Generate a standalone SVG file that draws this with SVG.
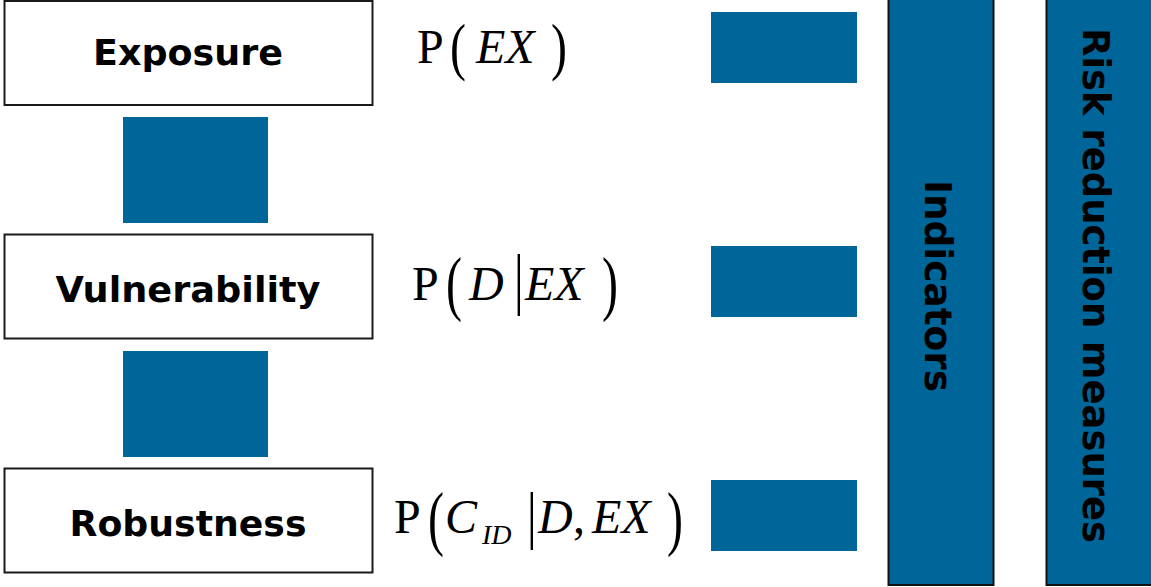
<svg xmlns="http://www.w3.org/2000/svg" width="1151" height="587" viewBox="0 0 1151 587">
  <style>
    .box { fill: #ffffff; stroke: #1a1a1a; stroke-width: 2; }
    .blk { fill: #00669a; }
    .col { fill: #00669a; stroke: #111111; stroke-width: 2; }
    .lbl { font-family: "DejaVu Sans", Verdana, sans-serif; font-weight: bold; font-size: 36px; fill: #000000; text-anchor: middle; }
    .vlbl { font-family: "DejaVu Sans", Verdana, sans-serif; font-weight: bold; font-size: 37px; fill: #000000; text-anchor: middle; }
    .math { font-family: "Liberation Serif", "Times New Roman", serif; font-size: 48px; fill: #000000; }
    .it { font-style: italic; }
    .sub { font-family: "Liberation Serif", "Times New Roman", serif; font-style: italic; font-size: 28px; fill: #000000; }
  </style>

  <!-- stage boxes -->
  <g id="exposure">
    <rect class="box" x="4.5" y="1" width="368" height="104"/>
    <text class="lbl" x="188" y="65" textLength="190" lengthAdjust="spacingAndGlyphs">Exposure</text>
  </g>
  <g id="vulnerability">
    <rect class="box" x="4.5" y="234.5" width="368" height="104"/>
    <text class="lbl" x="188" y="302" textLength="265" lengthAdjust="spacingAndGlyphs">Vulnerability</text>
  </g>
  <g id="robustness">
    <rect class="box" x="4.5" y="468.5" width="368" height="104"/>
    <text class="lbl" x="188" y="536" textLength="237" lengthAdjust="spacingAndGlyphs">Robustness</text>
  </g>

  <!-- blocks linking the stages and the probabilities -->
  <g id="links">
    <rect class="blk" x="123" y="117" width="145" height="106"/>
    <rect class="blk" x="123" y="351" width="145" height="106"/>
    <rect class="blk" x="711" y="12" width="146" height="71"/>
    <rect class="blk" x="711" y="246" width="146" height="71"/>
    <rect class="blk" x="711" y="480" width="146" height="71"/>
  </g>

  <!-- probability expressions -->
  <g id="p-exposure">
    <text class="math" x="417" y="63">P</text>
    <text class="math" transform="translate(450,51) scale(1,1.34)" x="0" y="12.4">(</text>
    <text class="math it" x="476" y="63">EX</text>
    <text class="math" transform="translate(551,51) scale(1,1.34)" x="0" y="12.4">)</text>
  </g>
  <g id="p-damage">
    <text class="math" x="412" y="300">P</text>
    <text class="math" transform="translate(446,289) scale(1,1.48)" x="0" y="12.4">(</text>
    <text class="math it" x="469" y="300">D</text>
    <text class="math" transform="translate(514,287) scale(1,1.4)" x="0" y="10.7">|</text>
    <text class="math it" x="525" y="300">EX</text>
    <text class="math" transform="translate(602,289) scale(1,1.48)" x="0" y="12.4">)</text>
  </g>
  <g id="p-collapse">
    <text class="math" x="394" y="533">P</text>
    <text class="math" transform="translate(428,523.5) scale(1,1.5)" x="0" y="12.4">(</text>
    <text class="math it" x="445" y="533">C</text>
    <text class="sub" x="482" y="544">ID</text>
    <text class="math" transform="translate(527,522) scale(1,1.3)" x="0" y="10.7">|</text>
    <text class="math it" x="538" y="533">D</text>
    <text class="math" x="573" y="533">,</text>
    <text class="math it" x="592" y="533">EX</text>
    <text class="math" transform="translate(667,523.5) scale(1,1.5)" x="0" y="12.4">)</text>
  </g>

  <!-- vertical bars -->
  <g id="indicators">
    <rect class="col" x="888.5" y="-2" width="105" height="587"/>
    <text class="vlbl" transform="translate(925,286) rotate(90)" x="0" y="0" textLength="212" lengthAdjust="spacingAndGlyphs">Indicators</text>
  </g>
  <g id="risk-reduction">
    <rect class="col" x="1046.5" y="-2" width="110" height="587"/>
    <text class="vlbl" transform="translate(1083,285.5) rotate(90)" x="0" y="0" textLength="515" lengthAdjust="spacingAndGlyphs">Risk reduction measures</text>
  </g>
</svg>
